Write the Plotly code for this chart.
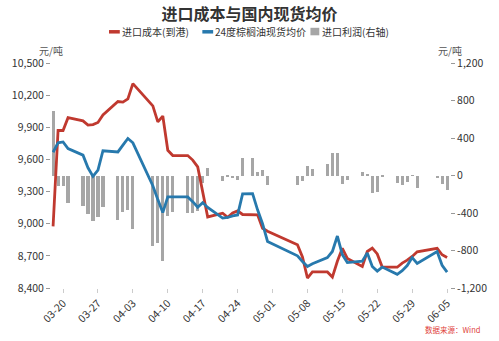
import plotly.graph_objects as go

# Trading days (2025), incl. the 04-27 make-up working day
dates = [
    "2025-03-18", "2025-03-19", "2025-03-20", "2025-03-21",
    "2025-03-24", "2025-03-25", "2025-03-26", "2025-03-27", "2025-03-28",
    "2025-03-31", "2025-04-01", "2025-04-02", "2025-04-03",
    "2025-04-07", "2025-04-08", "2025-04-09", "2025-04-10", "2025-04-11",
    "2025-04-14", "2025-04-15", "2025-04-16", "2025-04-17", "2025-04-18",
    "2025-04-21", "2025-04-22", "2025-04-23", "2025-04-24", "2025-04-25",
    "2025-04-27", "2025-04-28", "2025-04-29", "2025-04-30",
    "2025-05-06", "2025-05-07", "2025-05-08", "2025-05-09",
    "2025-05-12", "2025-05-13", "2025-05-14", "2025-05-15", "2025-05-16",
    "2025-05-19", "2025-05-20", "2025-05-21", "2025-05-22", "2025-05-23",
    "2025-05-26", "2025-05-27", "2025-05-28", "2025-05-29", "2025-05-30",
    "2025-06-03", "2025-06-04", "2025-06-05",
]

# 进口成本(到港), 元/吨
import_cost = [
    8975, 9870, 9870, 9990,
    9960, 9920, 9925, 9945, 10015,
    10140, 10135, 10165, 10308,
    10100, 9950, 10005, 9685, 9636,
    9636, 9594, 9530, 9280, 9063,
    9098, 9060, 9100, 9120, 9086,
    9086, 9083, 8958, 8930,
    8803, 8690, 8493, 8550,
    8550, 8502, 8650, 8770, 8676,
    8601, 8741, 8772, 8718, 8595,
    8594, 8632, 8660, 8694, 8738,
    8770, 8710, 8684,
]

# 24度棕榈油现货均价, 元/吨
spot_price = [
    9667, 9755, 9763, 9701,
    9640, 9522, 9442, 9501, 9681,
    9670, 9734, 9796, 9755,
    9355, 9225, 9104, 9250, 9250,
    9250, 9206, 9154, 9197, 9152,
    9052, 9058, 9073, 9082, 9278,
    9280, 9130, 9000, 8834,
    8700, 8648, 8601, 8626,
    8684, 8741, 8885, 8712, 8637,
    8650, 8728, 8601, 8558, 8595,
    8528, 8562, 8609, 8684, 8630,
    8741, 8612, 8548,
]

# 进口利润(右轴), 元/吨
import_profit = [
    690, -117, -117, -295,
    -320, -413, -490, -444, -332,
    -478, -392, -367, -568,
    -752, -720, -915, -430, -394,
    -398, -404, -375, -80, 80,
    -55, -15, -25, -45, 185,
    185, 40, 60, -105,
    -105, -55, 99, 70,
    122, 241, 241, -90, -50,
    37, 21, -185, -180, -6,
    -85, -105, -72, 5, -138,
    -30, -95, -150,
]

x_tick_vals = ["2025-03-20", "2025-03-27", "2025-04-03", "2025-04-10",
               "2025-04-17", "2025-04-24", "2025-05-01", "2025-05-08",
               "2025-05-15", "2025-05-22", "2025-05-29", "2025-06-05"]
x_tick_text = ["03-20", "03-27", "04-03", "04-10", "04-17", "04-24",
               "05-01", "05-08", "05-15", "05-22", "05-29", "06-05"]

left_tick_vals = [8400, 8700, 9000, 9300, 9600, 9900, 10200, 10500]
right_tick_vals = [-1200, -800, -400, 0, 400, 800, 1200]
right_tick_text = ["-1,200", "-800", "-400", "0", "400", "800", "1,200"]

series_names = ["进口成本(到港)", "24度棕榈油现货均价", "进口利润(右轴)"]

FONT = "Noto Sans CJK SC"
RED = "#c0392f"
BLUE = "#2779ad"
GREY = "#a6a6a6"
DAY_MS = 86400000

W, H = 499, 341
ML, MR, MT, MB = 47, 46, 63, 53
PW, PH = W - ML - MR, H - MT - MB


def px(x):
    """Horizontal pixel -> paper fraction."""
    return (x - ML) / PW


def py(y):
    """Vertical pixel (from top) -> paper fraction."""
    return (H - MB - y) / PH


fig = go.Figure()

fig.add_trace(go.Bar(
    x=dates, y=import_profit, name=series_names[2],
    marker=dict(color=GREY, line=dict(width=0)),
    width=0.62 * DAY_MS, yaxis="y", showlegend=False,
))
fig.add_trace(go.Scatter(
    x=dates, y=import_cost, name=series_names[0], mode="lines",
    line=dict(color=RED, width=2.8), yaxis="y2", showlegend=False,
))
fig.add_trace(go.Scatter(
    x=dates, y=spot_price, name=series_names[1], mode="lines",
    line=dict(color=BLUE, width=2.8), yaxis="y2", showlegend=False,
))

# Compact legend row under the title: short swatch + label per series
LEG_Y = 31.8
legend_items = [
    (series_names[0], RED, "line", 106, 117, 118.5),
    (series_names[1], BLUE, "line", 201, 212, 212.5),
    (series_names[2], GREY, "box", 311, 320, 321.5),
]
shapes = []
annotations = []
for name, color, kind, x0, x1, xt in legend_items:
    if kind == "line":
        shapes.append(dict(type="line", xref="paper", yref="paper",
                           x0=px(x0), x1=px(x1), y0=py(LEG_Y), y1=py(LEG_Y),
                           line=dict(color=color, width=3.5)))
    else:
        shapes.append(dict(type="rect", xref="paper", yref="paper",
                           x0=px(x0), x1=px(x1), y0=py(LEG_Y - 4), y1=py(LEG_Y + 3.5),
                           fillcolor=color, line=dict(width=0)))
    annotations.append(dict(text=name, xref="paper", yref="paper",
                            x=px(xt), y=py(LEG_Y), xanchor="left", yanchor="middle",
                            showarrow=False, borderpad=0,
                            font=dict(family=FONT, size=10, color="#333333")))

annotations += [
    dict(text="元/吨", xref="paper", yref="paper", x=px(46.5), y=py(50.5),
         xanchor="center", yanchor="middle", showarrow=False,
         font=dict(family=FONT, size=10, color="#555555")),
    dict(text="元/吨", xref="paper", yref="paper", x=px(452.5), y=py(50.5),
         xanchor="center", yanchor="middle", showarrow=False,
         font=dict(family=FONT, size=10, color="#555555")),
    dict(text="数据来源：Wind", xref="paper", yref="paper", x=px(486),
         y=py(329), xanchor="right", yanchor="middle", showarrow=False,
         font=dict(family=FONT, size=7.5, color="#e0403a")),
]

fig.update_layout(
    width=W, height=H,
    margin=dict(l=ML, r=MR, t=MT, b=MB),
    paper_bgcolor="white", plot_bgcolor="white",
    font=dict(family=FONT, size=10.5, color="#333333"),
    title=dict(
        text="<b>进口成本与国内现货均价</b>",
        x=0.5, xanchor="center", xref="container",
        y=1 - 14.5 / H, yanchor="middle", yref="container",
        font=dict(family=FONT, size=16, color="#333333"),
    ),
    showlegend=False,
    bargap=0,
    xaxis=dict(
        type="date",
        range=["2025-03-17 14:00", "2025-06-05 14:00"],
        tickvals=x_tick_vals, ticktext=x_tick_text, tickangle=-45,
        ticks="outside", ticklen=4, tickcolor="#cccccc",
        showgrid=False, zeroline=False, showline=False,
        tickfont=dict(size=10.5, color="#333333"),
    ),
    yaxis=dict(
        side="right", range=[-1200, 1200],
        tickvals=right_tick_vals, ticktext=right_tick_text,
        ticks="outside", ticklen=4, tickcolor="#999999",
        showgrid=False, zeroline=False, showline=False,
        tickfont=dict(size=10.5, color="#333333"),
    ),
    yaxis2=dict(
        side="left", overlaying="y", anchor="x", range=[8400, 10500],
        tickvals=left_tick_vals, tickformat=",",
        ticks="outside", ticklen=4, tickcolor="#999999",
        showgrid=False, zeroline=False, showline=False,
        tickfont=dict(size=10.5, color="#333333"),
    ),
    shapes=shapes,
    annotations=annotations,
)

fig.write_html("out.html")
